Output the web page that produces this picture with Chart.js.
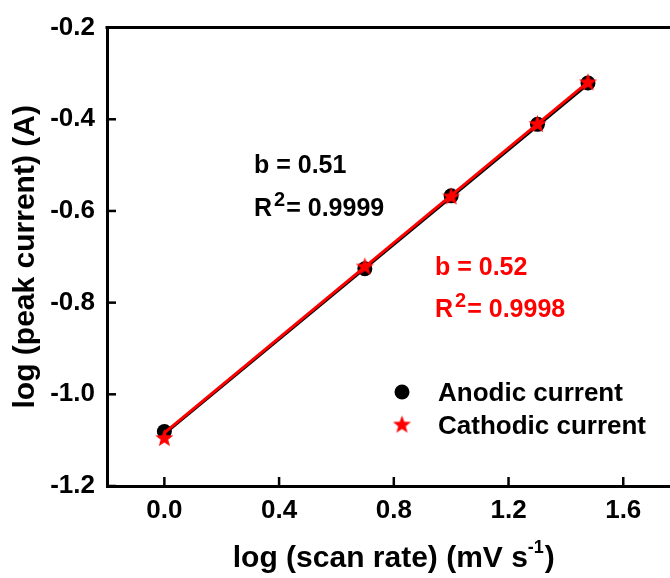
<!DOCTYPE html>
<html><head><meta charset="utf-8">
<script src="https://cdn.jsdelivr.net/npm/chart.js@4.4.1/dist/chart.umd.min.js"></script>
<style>html,body{margin:0;padding:0;background:#fff;} #wrap{width:670px;height:578px;position:relative;}</style>
</head><body>
<div id="wrap"><canvas id="c"></canvas></div>
<script>
// ---- data ----
const scanRateLog   = [0, 0.699, 1.0, 1.301, 1.477];
const anodicLogI    = [-1.081, -0.726, -0.567, -0.411, -0.321];
const cathodicLogI  = [-1.094, -0.720, -0.567, -0.409, -0.318];
const anodicFitX    = [0, 1.477];
const anodicFitY    = [-1.086, -0.323];
const cathodicFitX  = [0, 1.477];
const cathodicFitY  = [-1.084, -0.319];
const xTickValues   = [0, 0.4, 0.8, 1.2, 1.6];
const yTickValues   = [-1.2, -1.0, -0.8, -0.6, -0.4, -0.2];
const seriesNames   = ['Anodic current', 'Cathodic current'];
const anodicText    = ['b = 0.51', '0.9999'];
const cathodicText  = ['b = 0.52', '0.9998'];

const FONT = '"Liberation Sans", Arial, sans-serif';
const RED = '#ff0000';

function makeStar(r, color){
  const s = Math.ceil(r*2+2);
  const c = document.createElement('canvas');
  c.width = s; c.height = s;
  const g = c.getContext('2d');
  g.fillStyle = color;
  g.beginPath();
  for (let i=0;i<10;i++){
    const a = -Math.PI/2 + i*Math.PI/5;
    const rr = (i%2) ? r*0.42 : r;
    g.lineTo(s/2 + rr*Math.cos(a), s/2 + 1 + rr*Math.sin(a));
  }
  g.closePath(); g.fill();
  return c;
}
const starImg = makeStar(9.5, RED);

const pts = (xs, ys) => ys.map((y,i)=>({x:xs[i], y}));

function drawRText(ctx, x, y, val, color){
  ctx.fillStyle = color;
  ctx.textAlign = 'left';
  ctx.textBaseline = 'alphabetic';
  ctx.font = 'bold 25px ' + FONT;
  ctx.fillText('R', x, y);
  let w = ctx.measureText('R').width;
  ctx.font = 'bold 20px ' + FONT;
  ctx.fillText('2', x + w + 2, y - 10);
  w += ctx.measureText('2').width + 3;
  ctx.font = 'bold 25px ' + FONT;
  ctx.fillText('= ' + val, x + w, y);
}

const overlay = {
  id: 'overlay',
  afterDraw(chart){
    const ctx = chart.ctx;
    const {left, right, top, bottom} = chart.chartArea;
    const xs = chart.scales.x, ys = chart.scales.y;
    ctx.save();
    // top border
    ctx.strokeStyle = '#000'; ctx.lineWidth = 3;
    ctx.beginPath(); ctx.moveTo(left-1.5, top); ctx.lineTo(chart.width, top); ctx.stroke();
    // inward ticks
    ctx.lineWidth = 2.5;
    xTickValues.forEach(v=>{
      const px = xs.getPixelForValue(v);
      ctx.beginPath(); ctx.moveTo(px, bottom); ctx.lineTo(px, bottom-9); ctx.stroke();
    });
    yTickValues.forEach(v=>{
      const py = ys.getPixelForValue(v);
      ctx.beginPath(); ctx.moveTo(left, py); ctx.lineTo(left+9, py); ctx.stroke();
    });
    // x-axis title with superscript
    ctx.fillStyle = '#000';
    ctx.textBaseline = 'alphabetic';
    ctx.textAlign = 'left';
    const main = 'log (scan rate) (mV s';
    ctx.font = 'bold 30px ' + FONT;
    const w1 = ctx.measureText(main).width;
    ctx.font = 'bold 18px ' + FONT;
    const w2 = ctx.measureText('-1').width;
    ctx.font = 'bold 30px ' + FONT;
    const w3 = ctx.measureText(')').width;
    const total = w1 + w2 + w3 + 1;
    const cx = (left + xs.getPixelForValue(1.8)) / 2;
    let x0 = cx - total/2;
    const by = 567;
    ctx.fillText(main, x0, by);
    ctx.font = 'bold 18px ' + FONT;
    ctx.fillText('-1', x0 + w1, by - 14);
    ctx.font = 'bold 30px ' + FONT;
    ctx.fillText(')', x0 + w1 + w2 + 1, by);
    // legend
    ctx.fillStyle = '#000';
    ctx.beginPath(); ctx.arc(402, 392, 7.5, 0, Math.PI*2); ctx.fill();
    ctx.drawImage(starImg, 402 - starImg.width/2, 424 - starImg.height/2);
    ctx.font = 'bold 26px ' + FONT;
    ctx.fillStyle = '#000';
    ctx.fillText(seriesNames[0], 438, 401);
    ctx.fillText(seriesNames[1], 438, 434);
    // annotations
    ctx.font = 'bold 25px ' + FONT;
    ctx.fillStyle = '#000';
    ctx.fillText(anodicText[0], 254, 173);
    drawRText(ctx, 254, 216, anodicText[1], '#000');
    ctx.fillStyle = RED;
    ctx.font = 'bold 25px ' + FONT;
    ctx.fillText(cathodicText[0], 435, 275);
    drawRText(ctx, 435, 317, cathodicText[1], RED);
    ctx.restore();
  }
};

new Chart(document.getElementById('c'), {
  type: 'scatter',
  data: {
    datasets: [
      { label: seriesNames[1], data: pts(scanRateLog, cathodicLogI), pointStyle: starImg, showLine: false, order: 0 },
      { label: 'cathodic fit', data: pts(cathodicFitX, cathodicFitY), showLine: true, borderColor: RED, borderWidth: 3, pointRadius: 0, order: 1 },
      { label: seriesNames[0], data: pts(scanRateLog, anodicLogI), pointStyle: 'circle', pointRadius: 7.5, backgroundColor: '#000', borderWidth: 0, showLine: false, order: 2 },
      { label: 'anodic fit', data: pts(anodicFitX, anodicFitY), showLine: true, borderColor: '#000', borderWidth: 3, pointRadius: 0, order: 3 }
    ]
  },
  options: {
    responsive: true,
    maintainAspectRatio: false,
    animation: false,
    layout: { autoPadding: false, padding: { top: 24, right: 0, left: 0, bottom: 0 } },
    plugins: { legend: { display: false }, tooltip: { enabled: false } },
    scales: {
      x: {
        type: 'linear', min: -0.2, max: 1.763,
        afterBuildTicks: s => { s.ticks = xTickValues.map(v=>({value:v})); },
        afterFit: s => { s.height = 92; s.paddingRight = 0; s.paddingLeft = 0; },
        grid: { display: true, drawOnChartArea: false, drawTicks: false },
        border: { display: true, color: '#000', width: 3 },
        ticks: { color: '#000', padding: 9, font: { family: FONT, size: 26, weight: 'bold' }, callback: v => v.toFixed(1) },
        title: { display: false }
      },
      y: {
        type: 'linear', min: -1.2, max: -0.2,
        afterBuildTicks: s => { s.ticks = yTickValues.map(v=>({value:v})); },
        afterFit: s => { s.width = 107; },
        grid: { display: true, drawOnChartArea: false, drawTicks: false },
        border: { display: true, color: '#000', width: 3 },
        ticks: { color: '#000', padding: 12, font: { family: FONT, size: 26, weight: 'bold' }, callback: v => v.toFixed(1) },
        title: { display: true, text: 'log (peak current) (A)', color: '#000', padding: { top: 8, bottom: 0 }, font: { family: FONT, size: 30, weight: 'bold' } }
      }
    }
  },
  plugins: [overlay]
});
</script>
</body></html>
